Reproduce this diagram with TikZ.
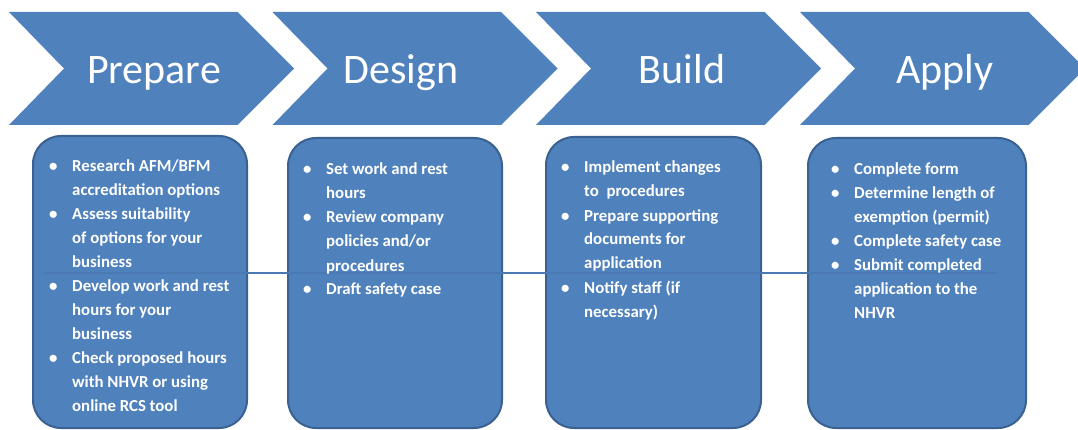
\documentclass[tikz,border=0pt]{standalone}
\usepackage{fontspec}
\setmainfont{Carlito}
\usepackage{array}
\definecolor{chev}{HTML}{4F81BD}
\definecolor{boxb}{HTML}{3A6190}
\definecolor{conn}{HTML}{4A79B3}
\newcommand{\chevronat}[1]{%
  \fill[chev] (#1,12) -- ++(228.5,0) -- ++(56.5,56.5) -- ++(-56.5,56.5) -- ++(-228.5,0) -- ++(55,-56.5) -- cycle;}
\begin{document}
\begin{tikzpicture}[x=1pt,y=-1pt,
  stage/.style={text=white, font=\fontsize{42}{50}\selectfont, anchor=base, inner sep=0pt},
  panel/.style={fill=chev, draw=boxb, line width=2pt, rounded corners=28pt, inner sep=0pt},
  items/.style={text=white, font=\bfseries\fontsize{16.8}{24}\selectfont, anchor=north west, inner sep=0pt},
  link/.style={draw=conn, line width=1.3pt}
]
\useasboundingbox (0,0) rectangle (1078,430);
\begin{scope}
\clip (0,0) rectangle (1078,430);
% chevrons
\chevronat{9}
\chevronat{272.5}
\chevronat{536}
\chevronat{800}
\node[stage] (t1) at (154,84) {Prepare};
\node[stage] (t2) at (401,84) {Design};
\node[stage] (t3) at (682,84) {Build};
\node[stage] (t4) at (945,84) {Apply};
% panels
\node[panel, minimum width=214pt, minimum height=292pt] (b1) at (140,282) {};
\node[panel, minimum width=214pt, minimum height=290pt] (b2) at (395,283) {};
\node[panel, minimum width=215pt, minimum height=291pt] (b3) at (653.5,282.5) {};
\node[panel, minimum width=218pt, minimum height=290pt] (b4) at (917,283) {};
% connector line across the panels
\coordinate (ls) at ([xshift=12pt]b1.west |- 0,273);
\coordinate (le) at ([xshift=-30pt]b4.east |- 0,273);
\draw[link] (ls) -- (le);
% bullet texts
\node[items] (x1) at (49,154.2) {\begin{tabular}{@{}p{23pt}@{}l@{}}
\textbullet & Research AFM/BFM\\
 & accreditation options\\
\textbullet & Assess suitability\\
 & of options for your\\
 & business\\
\textbullet & Develop work and rest\\
 & hours for your\\
 & business\\
\textbullet & Check proposed hours\\
 & with NHVR or using\\
 & online RCS tool
\end{tabular}};
\node[items] (x2) at (303,158) {\begin{tabular}{@{}p{23pt}@{}l@{}}
\textbullet & Set work and rest\\
 & hours\\
\textbullet & Review company\\
 & policies and/or\\
 & procedures\\
\textbullet & Draft safety case
\end{tabular}};
\node[items] (x3) at (561,156) {\begin{tabular}{@{}p{23pt}@{}l@{}}
\textbullet & Implement changes\\
 & to\ \ procedures\\
\textbullet & Prepare supporting\\
 & documents for\\
 & application\\
\textbullet & Notify staff (if\\
 & necessary)
\end{tabular}};
\node[items] (x4) at (831,158) {\begin{tabular}{@{}p{23pt}@{}l@{}}
\textbullet & Complete form\\
\textbullet & Determine length of\\
 & exemption (permit)\\
\textbullet & Complete safety case\\
\textbullet & Submit completed\\
 & application to the\\
 & NHVR
\end{tabular}};
\end{scope}
\end{tikzpicture}
\end{document}
